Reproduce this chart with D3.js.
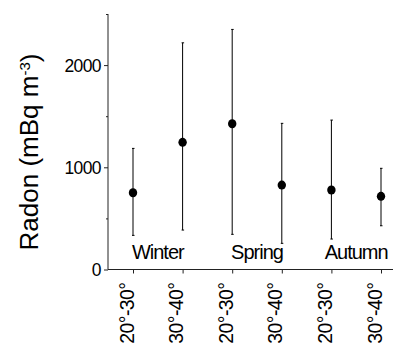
<!DOCTYPE html>
<html>
<head>
<meta charset="utf-8">
<script src="https://cdn.jsdelivr.net/npm/d3@7"></script>
<style>
  html, body { margin: 0; padding: 0; background: #fff; }
  svg { display: block; }
  text { font-family: Arial, "Liberation Sans", sans-serif; fill: #000; }
</style>
</head>
<body>
<svg id="chart" width="393" height="351"></svg>
<script>
// ---- data ----
const latitudes = ["20°-30°", "30°-40°", "20°-30°", "30°-40°", "20°-30°", "30°-40°"];
const seasons = ["Winter", "Spring", "Autumn"];
const means = [751, 1244, 1426, 826, 778, 716];
const upper = [1185, 2218, 2349, 1430, 1462, 990];
const lower = [334, 386, 344, 256, 298, 428];
const yMajorTicks = [0, 1000, 2000];
const yMinorTicks = [500, 1500, 2500];

// ---- layout ----
const axisLeft = 108, plotTop = 14, plotBottom = 269.5, axisRight = 393;

const svg = d3.select("#chart");
const idx = d3.range(latitudes.length);

const x = d3.scalePoint().domain(idx).range([133, 381]);
const y = d3.scaleLinear().domain([0, 2500]).range([plotBottom, plotTop]);

// Y axis
const yAxisG = svg.append("g").attr("transform", `translate(${axisLeft},0)`);
yAxisG.call(d3.axisLeft(y).tickValues(yMajorTicks).tickSize(4).tickSizeOuter(0).tickPadding(3)
  .tickFormat(d3.format("d")));
yAxisG.select(".domain").remove();
yAxisG.selectAll(".tick line").attr("stroke", "#222");
yAxisG.selectAll(".tick text")
  .style("font-size", "17.5px")
  .style("letter-spacing", "-0.6px")
  .attr("dy", "0.36em");
const yMinorG = svg.append("g").attr("transform", `translate(${axisLeft},0)`);
yMinorG.call(d3.axisLeft(y).tickValues(yMinorTicks).tickSize(2).tickSizeOuter(0).tickFormat(""));
yMinorG.select(".domain").remove();
yMinorG.selectAll(".tick line").attr("stroke", "#222");
svg.append("line")
  .attr("x1", axisLeft).attr("x2", axisLeft)
  .attr("y1", y(2500)).attr("y2", y(0))
  .attr("stroke", "#222").attr("stroke-width", 1);

// X axis
const xAxisG = svg.append("g").attr("transform", `translate(0,${plotBottom})`);
xAxisG.call(d3.axisBottom(x).tickSize(4).tickSizeOuter(0).tickFormat(i => latitudes[i]));
xAxisG.select(".domain").remove();
xAxisG.selectAll(".tick line").attr("stroke", "#222");
xAxisG.selectAll(".tick text")
  .style("font-size", "19.5px")
  .style("letter-spacing", "-0.6px")
  .attr("text-anchor", "end")
  .attr("transform", "rotate(-90)")
  .attr("x", -13)
  .attr("y", 0)
  .attr("dy", "0em");
svg.append("line")
  .attr("x1", axisLeft).attr("x2", axisRight)
  .attr("y1", plotBottom).attr("y2", plotBottom)
  .attr("stroke", "#222").attr("stroke-width", 1);

// Season labels
svg.append("g").selectAll("text").data(seasons).join("text")
  .attr("x", (d, i) => (x(2 * i) + x(2 * i + 1)) / 2)
  .attr("y", 259)
  .attr("text-anchor", "middle")
  .style("font-size", "20px")
  .style("letter-spacing", "-1px")
  .text(d => d);

// Error bars
const bars = svg.append("g");
bars.selectAll("line.whisker").data(idx).join("line")
  .attr("class", "whisker")
  .attr("x1", i => x(i)).attr("x2", i => x(i))
  .attr("y1", i => y(upper[i])).attr("y2", i => y(lower[i]))
  .attr("stroke", "#000").attr("stroke-width", 1);
bars.selectAll("line.capU").data(idx).join("line")
  .attr("class", "capU")
  .attr("x1", i => x(i) - 1).attr("x2", i => x(i) + 1.5)
  .attr("y1", i => y(upper[i])).attr("y2", i => y(upper[i]))
  .attr("stroke", "#000").attr("stroke-width", 1);
bars.selectAll("line.capL").data(idx).join("line")
  .attr("class", "capL")
  .attr("x1", i => x(i) - 1).attr("x2", i => x(i) + 1.5)
  .attr("y1", i => y(lower[i])).attr("y2", i => y(lower[i]))
  .attr("stroke", "#000").attr("stroke-width", 1);

// Mean markers
svg.append("g").selectAll("ellipse").data(idx).join("ellipse")
  .attr("cx", i => x(i))
  .attr("cy", i => y(means[i]))
  .attr("rx", 4.2).attr("ry", 4.5)
  .attr("fill", "#000");

// Y axis title
const title = svg.append("text")
  .attr("transform", "translate(38,152) rotate(-90)")
  .attr("text-anchor", "middle")
  .style("font-size", "26px");
title.append("tspan").text("Radon (mBq m");
title.append("tspan").attr("dy", "-0.55em").style("font-size", "15px").text("-3");
title.append("tspan").attr("dy", "0.37em").text(")");
</script>
</body>
</html>
